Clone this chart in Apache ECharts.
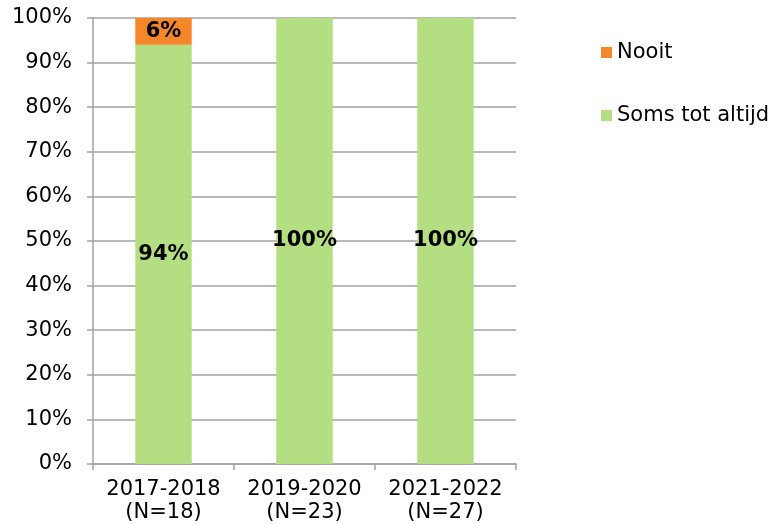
<!DOCTYPE html>
<html>
<head>
<meta charset="utf-8">
<title>Nooit / Soms tot altijd</title>
<style>
  html, body { margin: 0; padding: 0; background: #fff; }
  #chart { width: 776px; height: 524px; }
</style>
</head>
<body>
<div id="chart"></div>
<script src="https://cdn.jsdelivr.net/npm/echarts@6/dist/echarts.min.js"></script>
<script>
var categories = ['2017-2018\n(N=18)', '2019-2020\n(N=23)', '2021-2022\n(N=27)'];
var nooit = [6, 0, 0];
var somsTotAltijd = [94, 100, 100];
var seriesNames = ['Nooit', 'Soms tot altijd'];

var font = 'Verdana, "DejaVu Sans", sans-serif';
var gridGray = '#a3a3a3';

var chart = echarts.init(document.getElementById('chart'));

function pctLabel(p) {
  return p.value ? p.value + '%' : '';
}

var option = {
  animation: false,
  textStyle: { fontFamily: font },
  grid: { left: 93, right: 260, top: 18, bottom: 60 },
  legend: {
    data: seriesNames,
    orient: 'vertical',
    left: 596,
    top: 37,
    itemGap: 42,
    itemWidth: 11,
    itemHeight: 11,
    icon: 'rect',
    textStyle: { fontSize: 21, color: '#000', fontFamily: font }
  },
  xAxis: {
    type: 'category',
    data: categories,
    axisLine: { lineStyle: { color: gridGray, width: 1.5 } },
    axisTick: { show: true, interval: 0, length: 6, lineStyle: { color: gridGray, width: 1.5 } },
    axisLabel: { interval: 0, color: '#000', fontSize: 21, lineHeight: 23, margin: 14 }
  },
  yAxis: {
    type: 'value',
    min: 0,
    max: 100,
    interval: 10,
    axisLine: { show: true, lineStyle: { color: gridGray, width: 1.5 } },
    axisTick: { show: true, length: 6, lineStyle: { color: gridGray, width: 1.5 } },
    splitLine: { lineStyle: { color: gridGray, width: 1.5 } },
    axisLabel: { color: '#000', fontSize: 21, margin: 21, formatter: '{value}%' }
  },
  series: [
    {
      name: 'Soms tot altijd',
      type: 'bar',
      stack: 'a',
      barWidth: '40%',
      data: somsTotAltijd,
      itemStyle: { color: '#b3de81' },
      label: { show: true, position: 'inside', formatter: pctLabel, color: '#000', fontWeight: 'bold', fontSize: 21 }
    },
    {
      name: 'Nooit',
      type: 'bar',
      stack: 'a',
      barWidth: '40%',
      data: nooit,
      itemStyle: { color: '#f5862a' },
      label: { show: true, position: 'inside', formatter: pctLabel, color: '#000', fontWeight: 'bold', fontSize: 21 }
    }
  ]
};

chart.setOption(option);
</script>
</body>
</html>
